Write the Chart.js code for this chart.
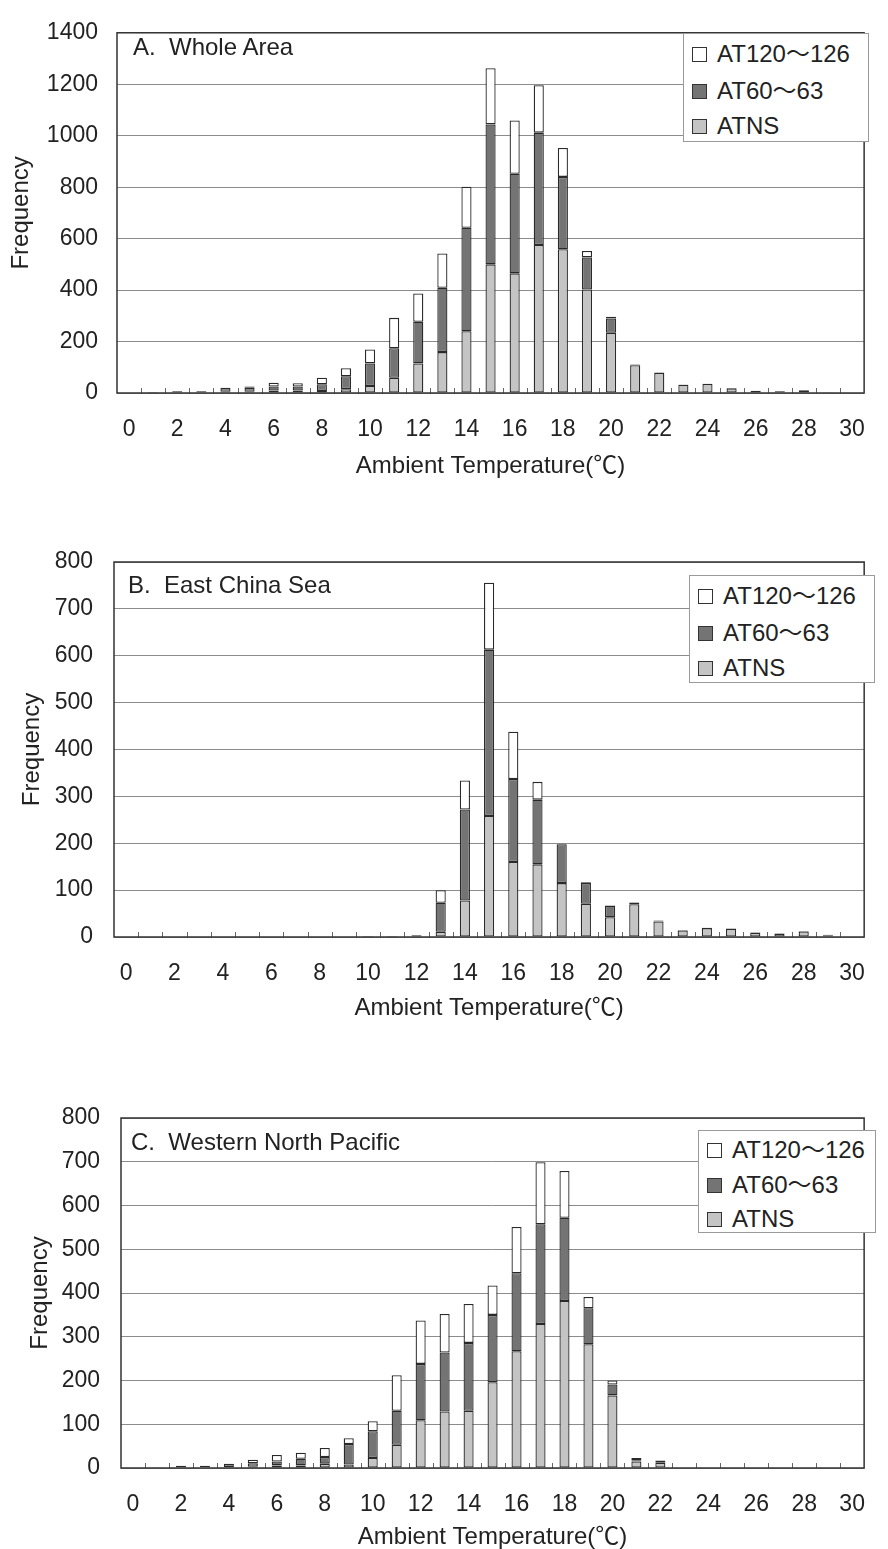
<!DOCTYPE html>
<html>
<head>
<meta charset="utf-8">
<script src="https://cdn.jsdelivr.net/npm/chart.js@4"></script>
<style>
html,body{margin:0;padding:0;background:#fff}
body{width:888px;height:1549px;position:relative;overflow:hidden;font-family:'Liberation Sans','Noto Sans CJK JP',sans-serif;color:#222}
.wrap{position:absolute;left:0;width:888px}
.wrap canvas{display:block}
.panel{position:absolute;font-size:24px;line-height:24px;white-space:pre;color:#222}
.legend{position:absolute;border:1px solid #9a9a9a;background:#fff;box-sizing:border-box}
.legend .row{position:absolute;left:0;height:24px;line-height:24px;font-size:24px;white-space:nowrap;color:#222}
.legend .sw{position:absolute;top:5px;width:15px;height:15px;border:1px solid #333;box-sizing:border-box}
.legend .tx{position:absolute;top:0}
</style>
</head>
<body>
<div class="wrap" id="wA"><canvas id="cA"></canvas></div>
<div class="wrap" id="wB"><canvas id="cB"></canvas></div>
<div class="wrap" id="wC"><canvas id="cC"></canvas></div>
<div class="panel" style="left:133px;top:35px">A.  Whole Area</div>
<div class="panel" style="left:128px;top:573px">B.  East China Sea</div>
<div class="panel" style="left:131px;top:1130px">C.  Western North Pacific</div>
<script>
// ---- data ----
const temps = ['0','1','2','3','4','5','6','7','8','9','10','11','12','13','14','15','16','17','18','19','20','21','22','23','24','25','26','27','28','29','30'];
const shownTickLabels = ['0','2','4','6','8','10','12','14','16','18','20','22','24','26','28','30'];
const seriesNames = ['ATNS', 'AT60～63', 'AT120～126'];
const seriesColors = ['#c4c4c4', '#747474', '#ffffff'];
const xTitle = 'Ambient Temperature(℃)';
const yTitle = 'Frequency';

// A. Whole Area
const atnsA  = [0,2,4,4,5,5,10,10,8,15,27,59,115,159,240,500,465,575,559,402,234,108,78,32,35,18,8,7,4,3,0];
const at60A  = [0,2,3,3,15,15,15,15,26,50,88,115,162,250,402,544,387,437,281,125,56,3,2,1,1,1,1,1,7,0,0];
const at120A = [0,0,1,1,0,5,15,13,25,31,54,118,110,133,160,218,207,184,112,25,6,0,0,0,0,0,0,0,0,0,0];
const yTicksA = [0,200,400,600,800,1000,1200,1400];

// B. East China Sea
const atnsB  = [0,0,0,0,0,0,0,0,0,0,1,1,2,11,78,258,160,155,115,71,42,70,33,14,19,17,9,7,12,4,0];
const at60B  = [0,0,0,0,0,0,0,0,0,0,1,1,2,62,194,355,177,138,83,44,25,3,2,1,1,1,1,1,1,1,0];
const at120B = [0,0,0,0,0,0,0,0,0,0,0,0,0,27,62,143,101,38,1,2,0,1,0,0,0,0,0,0,0,0,0];
const yTicksB = [0,100,200,300,400,500,600,700,800];

// C. Western North Pacific
const atnsC  = [0,1,2,2,2,3,6,6,10,8,23,53,109,129,131,196,267,329,382,283,166,15,12,0,0,0,0,0,0,0,0];
const at60C  = [0,1,3,3,8,8,9,15,15,47,61,78,129,135,155,154,178,228,190,82,25,3,0,0,0,0,0,0,0,0,0];
const at120C = [0,0,0,0,0,8,15,14,21,13,23,81,99,88,89,67,106,142,107,26,9,5,5,0,0,0,0,0,0,0,0];
const yTicksC = [0,100,200,300,400,500,600,700,800];

// ---- drawing ----
const FONT = "'Liberation Sans', 'Noto Sans CJK JP', sans-serif";
const TXT = '#222';

const framePlugin = {
  id: 'frame',
  afterDatasetsDraw(chart) {
    const {ctx, chartArea: a, scales: {x}} = chart;
    const n = chart.data.labels.length;
    const w = (a.right - a.left) / n;
    ctx.save();
    ctx.strokeStyle = '#666';
    ctx.lineWidth = 1;
    ctx.beginPath();
    for (let i = 1; i < n; i++) {
      const px = Math.round(x.getPixelForValue(i) - w / 2) + 0.5;
      ctx.moveTo(px, a.bottom);
      ctx.lineTo(px, a.bottom - 5);
    }
    ctx.stroke();
    ctx.strokeStyle = '#333';
    ctx.lineWidth = 1.5;
    ctx.strokeRect(a.left, a.top, a.right - a.left, a.bottom - a.top);
    ctx.restore();
  }
};

function buildLegend(box) {
  const el = document.createElement('div');
  el.className = 'legend';
  el.style.left = box.left + 'px';
  el.style.top = box.top + 'px';
  el.style.width = box.w + 'px';
  el.style.height = box.h + 'px';
  const order = [2, 1, 0];
  order.forEach((si, k) => {
    const row = document.createElement('div');
    row.className = 'row';
    row.style.top = (box.rows[k] - 12) + 'px';
    const sw = document.createElement('span');
    sw.className = 'sw';
    sw.style.left = '8px';
    sw.style.background = seriesColors[si];
    const tx = document.createElement('span');
    tx.className = 'tx';
    tx.style.left = '33px';
    tx.textContent = seriesNames[si];
    row.appendChild(sw);
    row.appendChild(tx);
    el.appendChild(row);
  });
  document.body.appendChild(el);
}

function build(cfg) {
  const H = cfg.plotBottom - cfg.top + 90;
  const wrap = document.getElementById(cfg.wrap);
  wrap.style.top = cfg.top + 'px';
  const canvas = document.getElementById(cfg.canvas);
  canvas.width = 888;
  canvas.height = H;
  const axisH = H - (cfg.plotBottom - cfg.top);
  const yTicks = cfg.yTicks;
  new Chart(canvas.getContext('2d'), {
    type: 'bar',
    data: {
      labels: temps,
      datasets: cfg.series.map((d, i) => ({
        label: seriesNames[i],
        data: d,
        backgroundColor: seriesColors[i],
        borderColor: '#2a2a2a',
        borderWidth: 1.3,
        borderSkipped: false,
        barPercentage: 0.42,
        categoryPercentage: 1
      }))
    },
    options: {
      responsive: false,
      animation: false,
      devicePixelRatio: 1,
      layout: { padding: { top: cfg.plotTop - cfg.top, right: 888 - cfg.plotRight, left: 0, bottom: 0 } },
      plugins: { legend: { display: false }, tooltip: { enabled: false } },
      scales: {
        x: {
          stacked: true,
          afterFit(s) { s.height = axisH; },
          grid: { display: false, drawTicks: false },
          border: { display: false },
          ticks: {
            autoSkip: false, maxRotation: 0, minRotation: 0,
            padding: 23,
            color: TXT,
            font: { family: FONT, size: 23 },
            callback(v, i) { const l = temps[i]; return shownTickLabels.includes(l) ? l : ''; }
          },
          title: {
            display: true, text: xTitle, color: TXT,
            font: { family: FONT, size: 24 },
            padding: { top: 0, bottom: 90 - 14.4 - cfg.xTitleOffset }
          }
        },
        y: {
          stacked: true,
          min: yTicks[0], max: yTicks[yTicks.length - 1],
          afterFit(s) { s.width = cfg.plotLeft; },
          afterBuildTicks(s) { s.ticks = yTicks.map(v => ({ value: v })); },
          grid: { color: '#8c8c8c', lineWidth: 1, drawTicks: false },
          border: { display: false },
          ticks: {
            padding: cfg.yTickPad, color: TXT, font: { family: FONT, size: 23 },
            callback(v) { return String(v); }
          },
          title: {
            display: true, text: yTitle, color: TXT,
            font: { family: FONT, size: 24 },
            padding: { top: cfg.yTitleX - 14.4, bottom: 0 }
          }
        }
      }
    },
    plugins: [framePlugin]
  });
}

build({ wrap: 'wA', canvas: 'cA', top: 0, plotTop: 17, plotBottom: 393, plotLeft: 117, plotRight: 880,
  series: [atnsA, at60A, at120A], yTicks: yTicksA, yTickPad: 19, yTitleX: 21, xTitleOffset: 73 });
build({ wrap: 'wB', canvas: 'cB', top: 520, plotTop: 562, plotBottom: 937, plotLeft: 114, plotRight: 880,
  series: [atnsB, at60B, at120B], yTicks: yTicksB, yTickPad: 21, yTitleX: 32, xTitleOffset: 71 });
build({ wrap: 'wC', canvas: 'cC', top: 1060, plotTop: 1118, plotBottom: 1468, plotLeft: 121, plotRight: 884,
  series: [atnsC, at60C, at120C], yTicks: yTicksC, yTickPad: 21, yTitleX: 40, xTitleOffset: 69 });

buildLegend({ left: 683, top: 33, w: 186, h: 109, rows: [20, 57, 92] });
buildLegend({ left: 689, top: 575, w: 186, h: 108, rows: [20, 57, 92] });
buildLegend({ left: 698, top: 1130, w: 178, h: 103, rows: [19, 54, 88] });
</script>
</body>
</html>
